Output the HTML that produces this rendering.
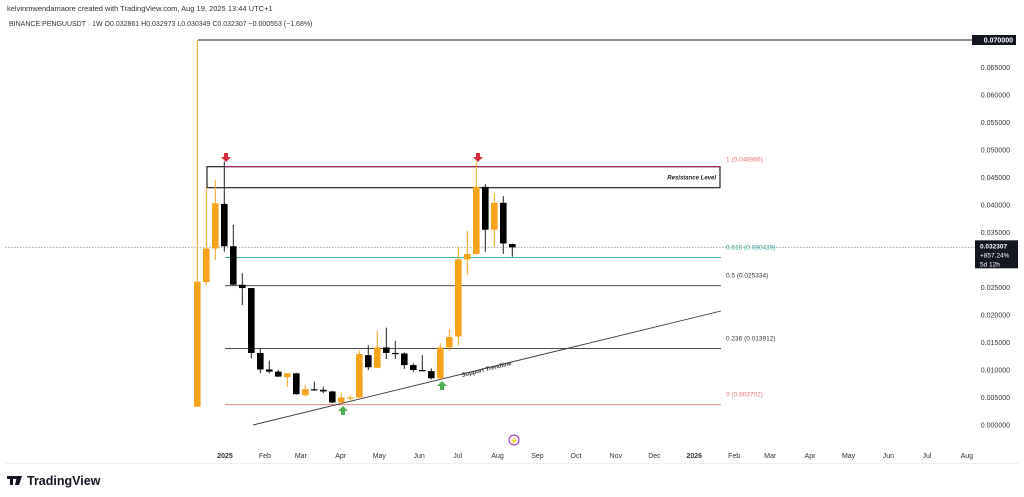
<!DOCTYPE html>
<html><head><meta charset="utf-8"><style>
body{margin:0;background:#fff;font-family:"Liberation Sans",sans-serif;}
svg{display:block}
</style></head><body>
<svg id="c" width="1024" height="497" viewBox="0 0 1024 497" xmlns="http://www.w3.org/2000/svg" font-family="Liberation Sans, sans-serif">
<rect width="1024" height="497" fill="#fff"/>
<text x="7" y="11" font-size="7.5" fill="#333">kelvinmwendamaore created with TradingView.com, Aug 19, 2025 13:44 UTC+1</text>
<text x="9" y="26" font-size="7" fill="#333">BINANCE:PENGUUSDT · 1W  O0.032861  H0.032973  L0.030349  C0.032307  −0.000553 (−1.68%)</text>
<line x1="5" y1="463.5" x2="1019" y2="463.5" stroke="#eee"/>
<g id="yaxis"></g><g id="xaxis"></g><g id="drawings"></g><g id="candles"></g>
<g>
<rect x="7" y="476" width="9" height="3" fill="#131722"/><rect x="10" y="476" width="3" height="9" fill="#131722"/>
<polygon points="17,476 22,476 19,485 15,485" fill="#131722"/><circle cx="16" cy="477.5" r="1.5" fill="#131722"/>
<text x="27" y="485" font-size="12.5" font-weight="bold" fill="#131722">TradingView</text></g>
<g><circle cx="514" cy="440" r="5" fill="none" stroke="#9c27b0"/><text x="514" y="443" font-size="7" fill="#9c27b0" text-anchor="middle">⚡</text></g>
</svg>
<script>
const opens=[0.00333,0.0260,0.0321,0.0402,0.0325,0.0255,0.0249,0.0131,0.0101,0.0097,0.0087,0.0094,0.0054,0.0065,0.0064,0.0061,0.0041,0.0050,0.0050,0.0127,0.0104,0.0141,0.0131,0.0130,0.0109,0.0100,0.0098,0.0085,0.0141,0.0161,0.0301,0.0311,0.0433,0.0355,0.0404,0.0329];
const highs=[0.0700,0.0433,0.0445,0.0479,0.0364,0.0276,0.0249,0.0139,0.0117,0.0100,0.0094,0.0095,0.0073,0.0079,0.0070,0.0062,0.0059,0.0054,0.0135,0.0145,0.0171,0.0177,0.0153,0.0132,0.0112,0.0127,0.0103,0.0149,0.0175,0.0324,0.0353,0.0479,0.0438,0.0421,0.0416,0.0330];
const lows=[0.00333,0.0254,0.0300,0.0315,0.0254,0.0218,0.0121,0.0094,0.0094,0.0087,0.0069,0.0055,0.0052,0.0062,0.0058,0.0040,0.0039,0.0044,0.0049,0.0100,0.0103,0.0120,0.0120,0.0102,0.0096,0.0097,0.0083,0.0083,0.0135,0.0145,0.0273,0.0310,0.0315,0.0324,0.0311,0.0306];
const closes=[0.02605,0.0321,0.0403,0.0325,0.0255,0.0249,0.0131,0.0101,0.0097,0.0088,0.0094,0.0056,0.0065,0.0064,0.0061,0.0041,0.0050,0.0050,0.0129,0.0105,0.0141,0.0131,0.0129,0.0109,0.0100,0.0098,0.0085,0.0141,0.0160,0.0301,0.0311,0.0433,0.0355,0.0404,0.0330,0.0323];
const yTicks=[0.000000,0.005000,0.010000,0.015000,0.020000,0.025000,0.030000,0.035000,0.040000,0.045000,0.050000,0.055000,0.060000,0.065000];
const monthLabels=["2025","Feb","Mar","Apr","May","Jun","Jul","Aug","Sep","Oct","Nov","Dec","2026","Feb","Mar","Apr","May","Jun","Jul","Aug"];
const monthDays=[0,31,59,90,120,151,181,212,243,273,304,334,365,396,424,455,485,516,546,577];
const fibLevels=[1,0.618,0.5,0.236,0];
const fibValues=[0.046966,0.030439,0.025334,0.013912,0.003702];
const lastPrice=0.032307;
const y=v=>425-v*5500;
const xd=d=>225+d*9/7;
const xi=i=>xd((i-3)*7)-0.7;
const NS="http://www.w3.org/2000/svg";
function mk(tag,attrs,parent,txt){const e=document.createElementNS(NS,tag);for(const k in attrs)e.setAttribute(k,attrs[k]);if(txt!==undefined)e.textContent=txt;parent.appendChild(e);return e;}
const ya=document.getElementById('yaxis'),xa=document.getElementById('xaxis'),dr=document.getElementById('drawings'),cg=document.getElementById('candles');
yTicks.forEach(v=>{const t=mk('text',{x:1010,y:y(v)+2.5,'font-size':7,fill:'#333','text-anchor':'end'},ya,v.toFixed(6));

});
monthLabels.forEach((m,i)=>{const t=mk('text',{x:xd(monthDays[i]),y:458,'font-size':7,fill:'#333','text-anchor':'middle','font-weight':m.length==4?'bold':'normal'},xa,m);

});
// top line and label
let e=mk('line',{x1:198,y1:y(0.07),x2:972,y2:y(0.07),stroke:'#222','stroke-width':1},dr);


e=mk('rect',{x:972,y:y(0.07)-5,width:44,height:10,fill:'#131722'},dr);


mk('text',{x:1013,y:y(0.07)+2.5,'font-size':7,fill:'#fff','text-anchor':'end','font-weight':'bold'},dr,'0.070000');
// resistance box
e=mk('rect',{x:207,y:y(fibValues[0]),width:513,height:21,fill:'none',stroke:'#222','stroke-width':1.2},dr);


mk('line',{x1:225,y1:y(fibValues[0]),x2:720,y2:y(fibValues[0]),stroke:'#c2185b','stroke-width':0.8},dr);
mk('text',{x:716,y:y(fibValues[0])+13,'font-size':6,'font-style':'italic','font-weight':'bold',fill:'#222','text-anchor':'end'},dr,'Resistance Level');
// fib lines
const fibColors=['#e57373','#26a69a','#333','#333','#e57373'];
fibLevels.forEach((l,i)=>{
 if(i>0){const ln=mk('line',{x1:225,y1:y(fibValues[i]),x2:721,y2:y(fibValues[i]),stroke:i==1?'#26a69a':(i==4?'#e57373':'#333'),'stroke-width':0.9},dr);
 
 }
 const t=mk('text',{x:726,y:y(fibValues[i])+(i==0?-5:-8),'font-size':6.5,fill:fibColors[i]},dr,l+' ('+fibValues[i].toFixed(6)+')');
 
 
});
// trendline
e=mk('line',{x1:253,y1:425,x2:721,y2:311,stroke:'#333','stroke-width':0.9},dr);


mk('text',{x:0,y:0,'font-size':6,'font-weight':'bold',fill:'#333',transform:'translate(462,377) rotate(-13.7)'},dr,'Support Trendline');
// last price line
e=mk('line',{x1:5,y1:y(lastPrice),x2:975,y2:y(lastPrice),stroke:'#999','stroke-dasharray':'1.5 1.5','stroke-width':0.8},dr);


e=mk('rect',{x:975,y:y(lastPrice)-7,width:43,height:28,fill:'#131722'},dr);


mk('text',{x:980,y:y(lastPrice)+1,'font-size':6.5,fill:'#fff','font-weight':'bold'},dr,lastPrice.toFixed(6));
mk('text',{x:980,y:y(lastPrice)+10,'font-size':6.5,fill:'#fff'},dr,'+857.24%');
mk('text',{x:980,y:y(lastPrice)+19,'font-size':6.5,fill:'#fff'},dr,'5d 12h');
// candles
opens.forEach((o,i)=>{const c=closes[i],up=c>=o,col=up?'#f7a21b':'#000',x=xi(i);
 const g=mk('g',{},cg);
 
 
 mk('line',{x1:x,y1:y(highs[i]),x2:x,y2:y(lows[i]),stroke:up?'#f7a21b':'#222','stroke-width':1},g);
 const top=y(Math.max(o,c)),h=Math.max(1.2,Math.abs(y(o)-y(c)));
 mk('rect',{x:x-3.3,y:top,width:6.6,height:h,fill:col},g);
});
// arrows
function arrow(x,yy,down,color,name){const g=mk('g',{},dr);
 
 
 const p=down?`${x-2},${yy-6} ${x+2},${yy-6} ${x+2},${yy-2} ${x+5},${yy-2} ${x},${yy+3} ${x-5},${yy-2} ${x-2},${yy-2}`:`${x-2},${yy+6} ${x+2},${yy+6} ${x+2},${yy+2} ${x+5},${yy+2} ${x},${yy-3} ${x-5},${yy+2} ${x-2},${yy+2}`;
 mk('polygon',{points:p,fill:color},g);}
arrow(226,159,true,'#d32f3f','red-arrow-1');
arrow(478,159,true,'#d32f3f','red-arrow-2');
arrow(343,409,false,'#4caf50','green-arrow-1');
arrow(442,384,false,'#4caf50','green-arrow-2');
</script>
</body></html>
